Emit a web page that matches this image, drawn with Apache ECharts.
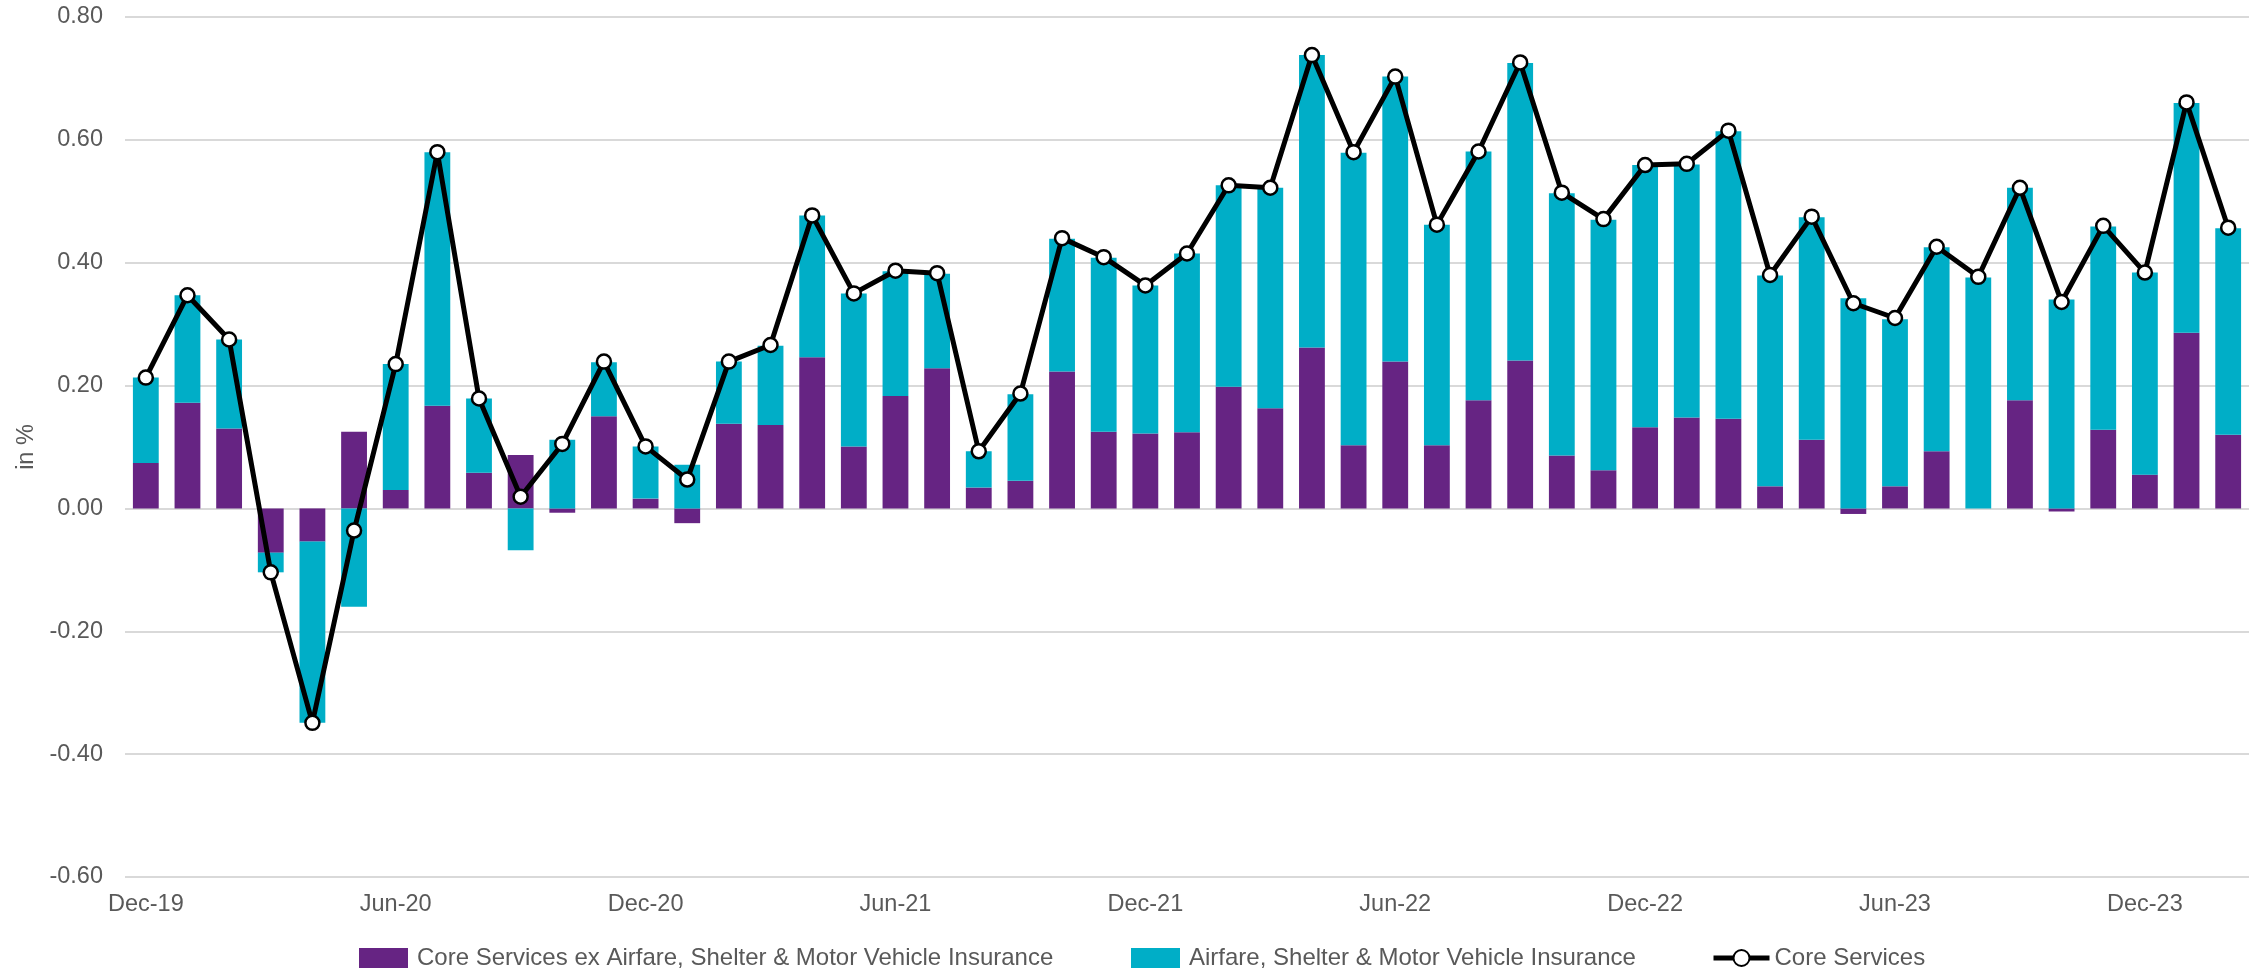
<!DOCTYPE html>
<html>
<head>
<meta charset="utf-8">
<script src="https://cdn.jsdelivr.net/npm/echarts@6/dist/echarts.min.js"></script>
<style>
  html, body { margin: 0; padding: 0; background: #fff; }
  #chart { width: 2252px; height: 970px; }
</style>
</head>
<body>
<div id="chart"></div>
<script>
const months = [
  'Dec-19', 'Jan-20', 'Feb-20', 'Mar-20', 'Apr-20', 'May-20', 'Jun-20', 'Jul-20', 'Aug-20', 'Sep-20', 'Oct-20', 'Nov-20',
  'Dec-20', 'Jan-21', 'Feb-21', 'Mar-21', 'Apr-21', 'May-21', 'Jun-21', 'Jul-21', 'Aug-21', 'Sep-21', 'Oct-21', 'Nov-21',
  'Dec-21', 'Jan-22', 'Feb-22', 'Mar-22', 'Apr-22', 'May-22', 'Jun-22', 'Jul-22', 'Aug-22', 'Sep-22', 'Oct-22', 'Nov-22',
  'Dec-22', 'Jan-23', 'Feb-23', 'Mar-23', 'Apr-23', 'May-23', 'Jun-23', 'Jul-23', 'Aug-23', 'Sep-23', 'Oct-23', 'Nov-23',
  'Dec-23', 'Jan-24', 'Feb-24'
]

// purple: core services ex airfare, shelter & motor vehicle insurance
const coreExAsm = [
  0.074, 0.172, 0.130, -0.072, -0.054, 0.125, 0.030, 0.167, 0.058, 0.087, -0.007, 0.150,
  0.016, -0.024, 0.138, 0.136, 0.246, 0.101, 0.183, 0.228, 0.034, 0.045, 0.223, 0.125,
  0.122, 0.124, 0.198, 0.163, 0.262, 0.103, 0.239, 0.103, 0.176, 0.241, 0.086, 0.062,
  0.132, 0.148, 0.146, 0.036, 0.112, -0.009, 0.036, 0.093, 0.000, 0.176, -0.005, 0.128,
  0.055, 0.286, 0.120
]

// cyan: airfare, shelter & motor vehicle insurance
const asm = [
  0.139, 0.175, 0.145, -0.032, -0.295, -0.160, 0.205, 0.413, 0.121, -0.068, 0.112, 0.088,
  0.085, 0.071, 0.101, 0.129, 0.231, 0.249, 0.203, 0.154, 0.059, 0.141, 0.216, 0.283,
  0.241, 0.291, 0.328, 0.359, 0.476, 0.476, 0.464, 0.359, 0.405, 0.484, 0.427, 0.408,
  0.427, 0.412, 0.468, 0.343, 0.362, 0.342, 0.272, 0.332, 0.376, 0.346, 0.340, 0.331,
  0.329, 0.374, 0.336
]

// black line: core services
const coreServices = [
  0.213, 0.347, 0.275, -0.104, -0.349, -0.036, 0.235, 0.580, 0.179, 0.019, 0.105, 0.239,
  0.101, 0.047, 0.239, 0.266, 0.477, 0.350, 0.387, 0.383, 0.093, 0.187, 0.440, 0.409,
  0.363, 0.415, 0.526, 0.522, 0.738, 0.580, 0.703, 0.462, 0.581, 0.726, 0.514, 0.471,
  0.559, 0.561, 0.615, 0.380, 0.475, 0.334, 0.310, 0.426, 0.377, 0.522, 0.336, 0.460,
  0.384, 0.661, 0.457
]

const names = [
  'Core Services ex Airfare, Shelter & Motor Vehicle Insurance',
  'Airfare, Shelter & Motor Vehicle Insurance',
  'Core Services'
]

const font = "'Liberation Sans', Arial, sans-serif"
const textColor = '#595959'

const chart = echarts.init(document.getElementById('chart'))

const legendText = { color: textColor, fontSize: 24, fontFamily: font, padding: [0, 0, 0, 4] }

chart.setOption({
  animation: false,
  textStyle: { fontFamily: font },
  grid: { left: 125, right: 3, top: 17, bottom: 93, containLabel: false },
  legend: [
    { data: [{ name: names[0], icon: 'rect' }], left: 359, top: 946, padding: 0, itemWidth: 49, itemHeight: 20, textStyle: legendText },
    { data: [{ name: names[1], icon: 'rect' }], left: 1131, top: 946, padding: 0, itemWidth: 49, itemHeight: 20, textStyle: legendText },
    {
      data: [names[2]], left: 1711, top: 946, padding: 0, itemWidth: 56, itemHeight: 20,
      lineStyle: { width: 5 },
      textStyle: { ...legendText, padding: [0, 0, 0, 0] }
    }
  ],
  xAxis: {
    type: 'category',
    data: months,
    position: 'bottom',
    axisLine: { show: false, onZero: false },
    axisTick: { show: false },
    axisLabel: { interval: 5, color: textColor, fontSize: 23.5, fontFamily: font, margin: 16 },
    splitLine: { show: false }
  },
  yAxis: {
    type: 'value',
    min: -0.6,
    max: 0.8,
    interval: 0.2,
    name: 'in %',
    nameLocation: 'middle',
    nameRotate: 90,
    nameGap: 84,
    nameTextStyle: { color: textColor, fontSize: 23.5, fontFamily: font },
    axisLine: { show: false },
    axisTick: { show: false },
    axisLabel: { color: textColor, fontSize: 23.5, fontFamily: font, margin: 22, formatter: (v) => v.toFixed(2) },
    splitLine: { lineStyle: { color: '#D9D9D9', width: 2 } }
  },
  series: [
    {
      name: names[0],
      type: 'bar',
      stack: 'total',
      data: coreExAsm,
      barCategoryGap: '38%',
      itemStyle: { color: '#662483' }
    },
    {
      name: names[1],
      type: 'bar',
      stack: 'total',
      data: asm,
      barCategoryGap: '38%',
      itemStyle: { color: '#00AEC7' }
    },
    {
      name: names[2],
      type: 'line',
      data: coreServices,
      z: 5,
      symbol: 'circle',
      symbolSize: 14,
      lineStyle: { color: '#000', width: 5 },
      itemStyle: { color: '#fff', borderColor: '#000', borderWidth: 2.5 }
    }
  ]
})

window.addEventListener('resize', () => chart.resize())
</script>
</body>
</html>
